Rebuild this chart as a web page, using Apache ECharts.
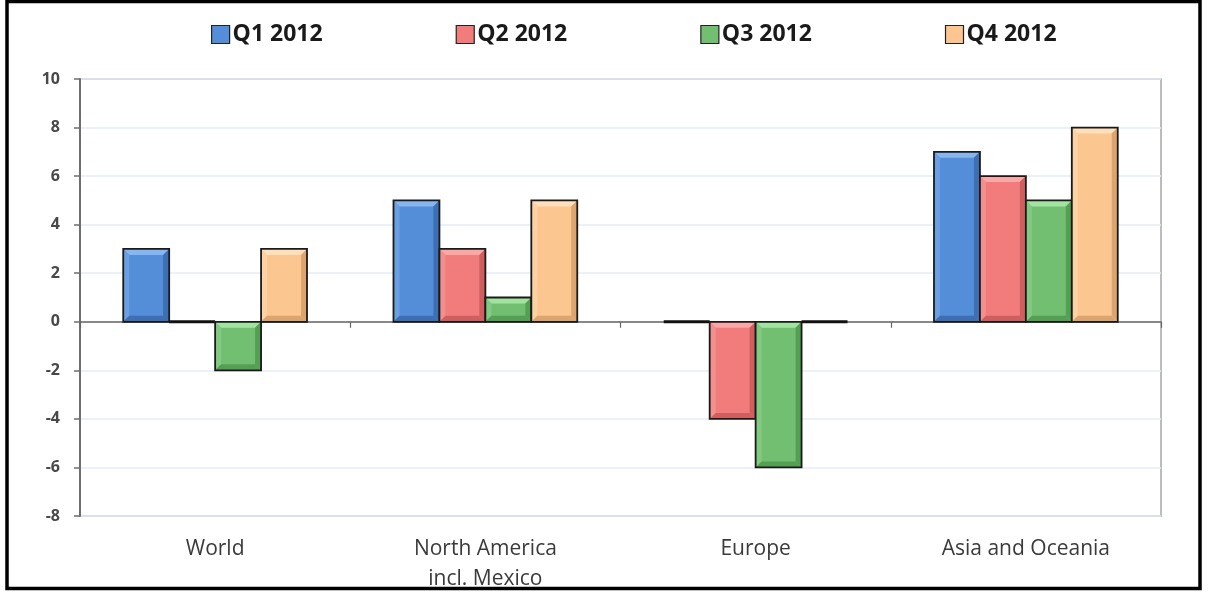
<!DOCTYPE html>
<html>
<head>
<meta charset="utf-8">
<script src="https://cdn.jsdelivr.net/npm/echarts@6/dist/echarts.min.js"></script>
<style>
  html, body { margin: 0; padding: 0; background: #fff; }
  #chart { width: 1216px; height: 594px; }
</style>
</head>
<body>
<div id="chart"></div>
<script>
// Regions on the category axis
const categories = ['World', 'North America\nincl. Mexico', 'Europe', 'Asia and Oceania'];

// Quarterly values per region
const q1 = [3, 5, 0, 7];
const q2 = [0, 3, -4, 6];
const q3 = [-2, 1, -6, 5];
const q4 = [3, 5, 0, 8];

const seriesNames = ['Q1 2012', 'Q2 2012', 'Q3 2012', 'Q4 2012'];
const seriesValues = [q1, q2, q3, q4];

// Value axis range and tick step
const yMin = -8;
const yMax = 10;
const yStep = 2;

// Face, highlight and shadow tones for each quarter's bevelled bars
const palette = [
  { face: '#558ed8', light: '#86b5ef', side: '#6a9fe2', dark: '#3e6fb4' },
  { face: '#f27c7c', light: '#f9a7a7', side: '#f48f8f', dark: '#cf5f5f' },
  { face: '#72bf72', light: '#a3e3a1', side: '#82ca82', dark: '#559f55' },
  { face: '#fbc68f', light: '#ffe0bd', side: '#fcd2a4', dark: '#dca570' }
];

const chart = echarts.init(document.getElementById('chart'));

function bevelBar(params, api) {
  const si = params.seriesIndex;
  const cat = api.value(0);
  const v = api.value(1);
  const band = api.size([1, 0])[0];
  const bw = band * 0.17;
  const base = api.coord([cat, 0]);
  const x = base[0] + (si - 1.5) * bw - bw / 2;
  const yv = api.coord([cat, v])[1];
  const c = palette[si];
  if (v === 0) {
    return {
      type: 'rect',
      shape: { x: x, y: base[1] - 1.5, width: bw, height: 3 },
      style: { fill: '#111' }
    };
  }
  const top = Math.min(base[1], yv);
  const bot = Math.max(base[1], yv);
  const h = bot - top;
  const d = Math.min(6, h / 3);
  const xr = x + bw;
  return {
    type: 'group',
    children: [
      { type: 'rect', shape: { x: x, y: top, width: bw, height: h }, style: { fill: c.face } },
      { type: 'polygon', shape: { points: [[x, top], [xr, top], [xr - d, top + d], [x + d, top + d]] }, style: { fill: c.light } },
      { type: 'polygon', shape: { points: [[x, top], [x + d, top + d], [x + d, bot - d], [x, bot]] }, style: { fill: c.side } },
      { type: 'polygon', shape: { points: [[xr, top], [xr, bot], [xr - d, bot - d], [xr - d, top + d]] }, style: { fill: c.dark } },
      { type: 'polygon', shape: { points: [[x, bot], [xr, bot], [xr - d, bot - d], [x + d, bot - d]] }, style: { fill: c.dark } },
      { type: 'rect', shape: { x: x, y: top, width: bw, height: h }, style: { fill: null, stroke: '#1a1a1a', lineWidth: 1.8 } }
    ]
  };
}

const series = seriesNames.map((name, i) => ({
  name: name,
  type: 'custom',
  xAxisIndex: 0,
  yAxisIndex: 0,
  renderItem: bevelBar,
  itemStyle: { color: palette[i].face },
  encode: { x: 0, y: 1 },
  data: seriesValues[i].map((v, j) => [j, v]),
  z: 3
}));

chart.setOption({
  animation: false,
  backgroundColor: '#fff',
  textStyle: { fontFamily: '"Open Sans", sans-serif' },
  legend: {
    top: 18,
    left: 206,
    itemGap: 133,
    itemWidth: 18,
    itemHeight: 18,
    icon: 'rect',
    itemStyle: { borderColor: '#222', borderWidth: 1.2 },
    textStyle: { fontSize: 23, fontWeight: 'bold', color: '#1a1a1a', padding: [0, 0, 0, -2] },
    data: seriesNames
  },
  grid: {
    left: 80,
    right: 55,
    top: 79,
    bottom: 78,
    outerBoundsMode: 'none',
    show: true,
    borderColor: '#a6a6a6',
    borderWidth: 1.5
  },
  xAxis: [
    {
      type: 'category',
      data: categories,
      position: 'bottom',
      axisLine: { show: false, onZero: false },
      axisTick: { show: false },
      splitLine: { show: false },
      axisLabel: { margin: 18, fontSize: 21, color: '#3a3a3a', lineHeight: 30 }
    },
    {
      type: 'category',
      data: categories,
      position: 'bottom',
      axisLine: { show: true, onZero: true, lineStyle: { color: '#666', width: 1.5 } },
      axisTick: { show: true, length: 6, lineStyle: { color: '#666', width: 1.2 } },
      axisLabel: { show: false },
      splitLine: { show: false }
    }
  ],
  yAxis: {
    type: 'value',
    min: yMin,
    max: yMax,
    interval: yStep,
    axisLine: { show: true, lineStyle: { color: '#6e6e6e', width: 2 } },
    axisTick: { show: true, length: 6, lineStyle: { color: '#6e6e6e', width: 1.5 } },
    axisLabel: { margin: 20, fontSize: 16, fontWeight: 'bold', color: '#484848' },
    splitLine: { show: true, lineStyle: { color: '#e5ebf7', width: 1.5 } }
  },
  graphic: [
    {
      type: 'rect',
      shape: { x: 7, y: 1.5, width: 1193, height: 587 },
      style: { fill: null, stroke: '#000', lineWidth: 3.5 },
      z: 100
    }
  ],
  series: series
});
</script>
</body>
</html>
